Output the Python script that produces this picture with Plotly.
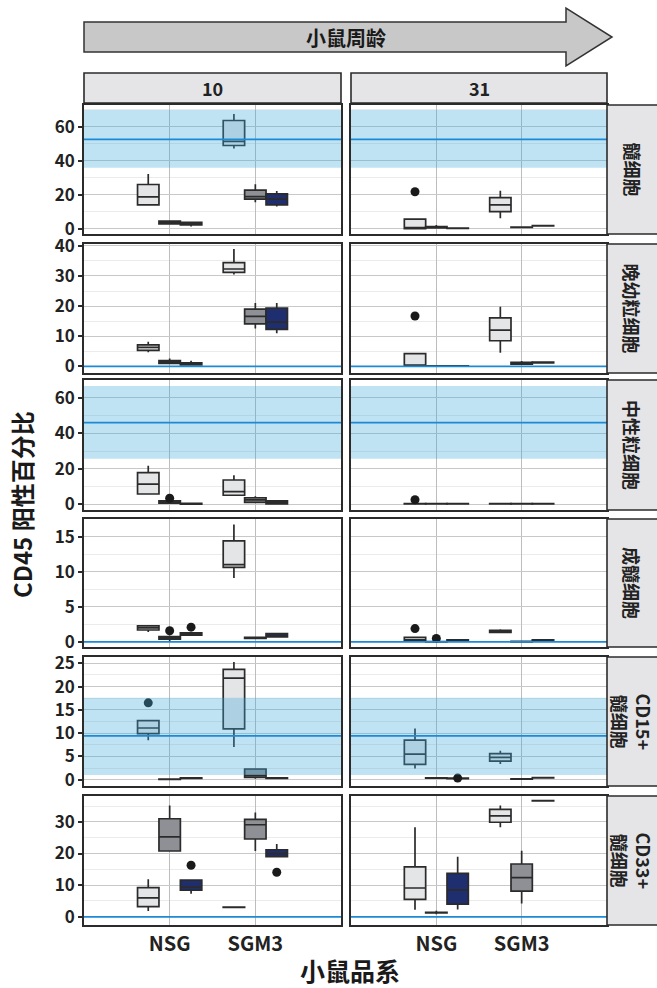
import plotly.graph_objects as go

# ---------------- data ----------------
cell_types = ["髓细胞", "晚幼粒细胞", "中性粒细胞", "成髓细胞", "CD15+<br>髓细胞", "CD33+<br>髓细胞"]
ages = ["10", "31"]
strains = ["NSG", "SGM3"]
group_fill = ["#E4E5E7", "#8E9095", "#1F2E6E"]

# box stats per panel: [low whisker, q1, median, q3, high whisker]
# order: NSG g1, NSG g2, NSG g3, SGM3 g1, SGM3 g2, SGM3 g3
myelo_10 = [[13.8, 14.1, 18.8, 26.1, 32.2], [2.8, 3.0, 3.8, 4.6, 4.9], [1.4, 2.3, 3.0, 3.9, 3.9],
            [47.2, 49.0, 51.4, 63.7, 67.5], [15.7, 17.5, 19.0, 22.8, 26.3], [13.1, 14.1, 17.5, 20.6, 22.2]]
myelo_31 = [[0.0, 0.1, 0.4, 5.7, 5.7], [0.4, 0.6, 0.9, 1.4, 2.3], [0.3, 0.3, 0.4, 0.5, 0.5],
            [6.3, 10.2, 14.1, 18.4, 22.4], [0.8, 0.9, 1.0, 1.1, 1.2], [1.7, 1.8, 1.9, 2.0, 2.1]]
meta_10 = [[4.7, 5.3, 6.3, 7.1, 8.2], [0.8, 1.0, 1.4, 1.9, 2.6], [0.5, 0.5, 0.9, 1.2, 1.9],
           [30.5, 31.2, 32.3, 34.4, 38.9], [12.6, 14.1, 16.6, 19.0, 21.0], [11.0, 12.3, 14.7, 19.3, 21.0]]
meta_31 = [[0.0, 0.1, 0.2, 4.2, 4.2], [0.0, 0.1, 0.15, 0.2, 0.3], [0.0, 0.05, 0.1, 0.15, 0.2],
           [4.5, 8.5, 12.0, 16.1, 19.8], [0.5, 0.7, 1.0, 1.3, 1.8], [1.1, 1.15, 1.3, 1.4, 1.45]]
neut_10 = [[5.5, 5.8, 11.4, 17.8, 21.7], [0.6, 0.7, 1.3, 1.9, 2.0], [0.1, 0.1, 0.3, 0.5, 0.5],
           [5.0, 5.1, 7.1, 13.7, 16.3], [0.9, 1.1, 2.5, 3.7, 4.5], [0.2, 0.3, 1.2, 2.0, 2.0]]
neut_31 = [[0.2, 0.2, 0.3, 0.35, 0.4], [0.2, 0.25, 0.3, 0.35, 0.4], [0.2, 0.25, 0.3, 0.35, 0.4],
           [0.2, 0.25, 0.3, 0.35, 0.4], [0.2, 0.25, 0.3, 0.35, 0.4], [0.2, 0.25, 0.3, 0.35, 0.4]]
blast_10 = [[1.4, 1.7, 2.0, 2.3, 2.4], [0.1, 0.4, 0.6, 0.75, 0.9], [0.9, 0.95, 1.1, 1.3, 1.3],
            [9.1, 10.6, 11.0, 14.4, 16.7], [0.5, 0.5, 0.57, 0.65, 0.7], [0.7, 0.7, 0.9, 1.2, 1.2]]
blast_31 = [[0.2, 0.2, 0.3, 0.67, 0.67], [0.0, 0.0, 0.02, 0.05, 0.1], [0.25, 0.25, 0.28, 0.3, 0.3],
            [1.3, 1.35, 1.5, 1.65, 1.8], [0.0, 0.02, 0.05, 0.07, 0.1], [0.25, 0.26, 0.28, 0.3, 0.31]]
cd15_10 = [[8.5, 9.9, 11.1, 12.7, 12.7], [0.0, 0.05, 0.1, 0.15, 0.2], [0.3, 0.3, 0.35, 0.4, 0.45],
           [7.0, 10.9, 21.8, 23.7, 25.3], [0.2, 0.5, 0.9, 2.3, 2.3], [0.3, 0.3, 0.35, 0.4, 0.4]]
cd15_31 = [[2.4, 3.3, 5.5, 8.5, 11.0], [0.3, 0.32, 0.35, 0.38, 0.4], [0.2, 0.25, 0.3, 0.32, 0.35],
           [3.4, 4.0, 4.8, 5.6, 6.2], [0.1, 0.12, 0.15, 0.18, 0.2], [0.35, 0.37, 0.4, 0.43, 0.45]]
cd33_10 = [[1.8, 3.2, 6.0, 9.2, 11.9], [20.8, 20.8, 25.3, 31.0, 35.2], [7.3, 8.4, 9.4, 11.6, 11.6],
           [2.9, 2.95, 3.0, 3.05, 3.1], [20.8, 24.6, 29.1, 30.8, 33.0], [19.0, 19.0, 20.0, 21.2, 23.0]]
cd33_31 = [[2.2, 5.5, 9.1, 15.8, 28.3], [0.8, 1.2, 1.3, 1.4, 1.9], [2.3, 4.0, 8.5, 13.7, 19.0],
           [28.3, 29.9, 31.9, 34.0, 35.2], [4.2, 8.1, 12.4, 16.7, 20.9], [36.6, 36.65, 36.7, 36.75, 36.8]]

panel_stats = [[myelo_10, myelo_31], [meta_10, meta_31], [neut_10, neut_31],
               [blast_10, blast_31], [cd15_10, cd15_31], [cd33_10, cd33_31]]

# outliers: (row, age index, strain index, group index, value)
outliers = [(0, 1, 0, 0, 21.8), (1, 1, 0, 0, 16.7), (2, 0, 0, 1, 3.4), (2, 1, 0, 0, 2.6),
            (3, 0, 0, 1, 1.6), (3, 0, 0, 2, 2.1), (3, 1, 0, 0, 1.9), (3, 1, 0, 1, 0.5),
            (4, 0, 0, 0, 16.5), (4, 1, 0, 2, 0.35), (5, 0, 0, 2, 16.3), (5, 0, 1, 2, 14.1)]

# reference ranges (low, mid, high)
ref_low = [35.9, 0.0, 25.7, 0.0, 1.0, 0.0]
ref_mid = [52.6, 0.0, 46.0, 0.0, 9.4, 0.0]
ref_high = [69.8, 0.0, 66.6, 0.0, 17.6, 0.0]

y_min = [-3.0, -2.2, -3.2, -0.72, -1.35, -2.6]
y_max = [72.8, 40.6, 70.0, 17.5, 26.35, 38.2]
y_dtick = [20, 10, 20, 5, 5, 10]

# ---------------- layout geometry ----------------
W, H = 657, 988
def px(x):
    return x / W
def py(y):
    return 1 - y / H

col_x = [(84, 341), (351, 607)]
row_y = [(105, 234), (244, 373), (380, 510), (519, 647), (657, 786), (796, 925)]
offsets = [-0.25, 0.0, 0.25]
FONT = "Noto Sans CJK SC"
DARK = "#2B2B2B"
TXT = "#222222"

fig = go.Figure()
layout = {}
shapes = []
annotations = []

for r in range(6):
    for c in range(2):
        n = r * 2 + c + 1
        xa = "x" if n == 1 else f"x{n}"
        ya = "y" if n == 1 else f"y{n}"
        xkey = "xaxis" if n == 1 else f"xaxis{n}"
        ykey = "yaxis" if n == 1 else f"yaxis{n}"
        stats = panel_stats[r][c]
        for s in range(2):
            for g in range(3):
                lo, q1, med, q3, hi = stats[s * 3 + g]
                fig.add_trace(go.Box(
                    x=[s + 1 + offsets[g]], q1=[q1], median=[med], q3=[q3],
                    lowerfence=[lo], upperfence=[hi], width=0.25, whiskerwidth=0,
                    fillcolor=group_fill[g], line=dict(color=DARK, width=1.7),
                    boxpoints=False, showlegend=False, hoverinfo="skip",
                    xaxis=xa, yaxis=ya))
        ox, oy = [], []
        for (orow, oage, ostr, ogrp, val) in outliers:
            if orow == r and oage == c:
                ox.append(ostr + 1 + offsets[ogrp])
                oy.append(val)
        if ox:
            fig.add_trace(go.Scatter(x=ox, y=oy, mode="markers",
                                     marker=dict(color="#1A1A1A", size=9),
                                     showlegend=False, hoverinfo="skip",
                                     xaxis=xa, yaxis=ya))
        layout[xkey] = dict(
            domain=[px(col_x[c][0]), px(col_x[c][1])], anchor=ya, automargin=False,
            range=[0, 3], tickvals=[1, 2], ticktext=strains,
            showticklabels=(r == 5), ticks="", showgrid=True,
            gridcolor="#BDBDBD", gridwidth=1, zeroline=False,
            showline=True, linecolor=DARK, linewidth=1.6, mirror=True,
            tickfont=dict(family=FONT, size=20, color=TXT, weight="bold"))
        layout[ykey] = dict(
            domain=[py(row_y[r][1]), py(row_y[r][0])], anchor=xa, automargin=False,
            range=[y_min[r], y_max[r]], tickmode="linear", tick0=0, dtick=y_dtick[r],
            showticklabels=(c == 0), ticks="outside" if c == 0 else "",
            ticklen=4, tickcolor=DARK, tickwidth=1.5,
            showgrid=True, gridcolor="#C8C8C8", gridwidth=1, zeroline=False,
            minor=dict(tickmode="linear", tick0=0, dtick=y_dtick[r] / 2,
                       showgrid=True, gridcolor="#EBEBEB", gridwidth=1, ticks=""),
            showline=True, linecolor=DARK, linewidth=1.6, mirror=True,
            tickfont=dict(family=FONT, size=17, color=TXT, weight="bold"))
        xdom = f"{xa} domain"
        if ref_high[r] > ref_low[r]:
            shapes.append(dict(type="rect", xref=xdom, yref=ya, x0=0, x1=1,
                               y0=ref_low[r], y1=ref_high[r],
                               fillcolor="rgba(61,170,219,0.33)", line=dict(width=0),
                               layer="above"))
        shapes.append(dict(type="line", xref=xdom, yref=ya, x0=0, x1=1,
                           y0=ref_mid[r], y1=ref_mid[r],
                           line=dict(color="#1C8AD6", width=1.8), layer="above"))

# top strips (ages)
for c in range(2):
    shapes.append(dict(type="rect", xref="paper", yref="paper",
                       x0=px(col_x[c][0]), x1=px(col_x[c][1]), y0=py(103), y1=py(73),
                       fillcolor="#E5E5E7", line=dict(color=DARK, width=1.6)))
    annotations.append(dict(xref="paper", yref="paper", x=px((col_x[c][0] + col_x[c][1]) / 2),
                            y=py(88), xanchor="center", yanchor="middle", text=ages[c],
                            showarrow=False,
                            font=dict(family=FONT, size=18, color=TXT, weight="bold")))
# right strips (cell types)
for r in range(6):
    shapes.append(dict(type="rect", xref="paper", yref="paper",
                       x0=px(607), x1=px(664), y0=py(row_y[r][1]), y1=py(row_y[r][0]),
                       fillcolor="#E5E5E7", line=dict(color=DARK, width=1.6)))
    annotations.append(dict(xref="paper", yref="paper", x=px(632),
                            y=py((row_y[r][0] + row_y[r][1]) / 2),
                            xanchor="center", yanchor="middle",
                            text=cell_types[r], showarrow=False, textangle=90,
                            font=dict(family=FONT, size=18, color=TXT, weight="bold")))

# top arrow
arrow_pts = [(84, 22), (566, 22), (566, 8), (612, 37), (566, 66), (566, 52), (84, 52)]
path = "M " + " L ".join(f"{px(x)},{py(y)}" for x, y in arrow_pts) + " Z"
shapes.append(dict(type="path", xref="paper", yref="paper", path=path,
                   fillcolor="#C8C8C8", line=dict(color="#333333", width=1.5)))
annotations.append(dict(xref="paper", yref="paper", x=px(346), y=py(37),
                        xanchor="center", yanchor="middle", text="小鼠周龄",
                        showarrow=False,
                        font=dict(family=FONT, size=20, color="#1A1A1A", weight="bold")))

# axis titles
annotations.append(dict(xref="paper", yref="paper", x=px(350), y=py(970),
                        xanchor="center", yanchor="middle", text="小鼠品系",
                        showarrow=False,
                        font=dict(family=FONT, size=25, color="#1A1A1A", weight="bold")))
annotations.append(dict(xref="paper", yref="paper", x=px(22), y=py(505),
                        xanchor="center", yanchor="middle", text="CD45 阳性百分比",
                        showarrow=False, textangle=-90,
                        font=dict(family=FONT, size=24, color="#1A1A1A", weight="bold")))

fig.update_layout(template="none", width=W, height=H, margin=dict(l=0, r=0, t=0, b=0, pad=0),
                  paper_bgcolor="white", plot_bgcolor="white", showlegend=False,
                  shapes=shapes, annotations=annotations, boxmode="overlay",
                  **layout)

fig.write_html("out.html", config={"displayModeBar": False},
               post_script="document.body.style.margin='0';document.body.style.padding='0';")
